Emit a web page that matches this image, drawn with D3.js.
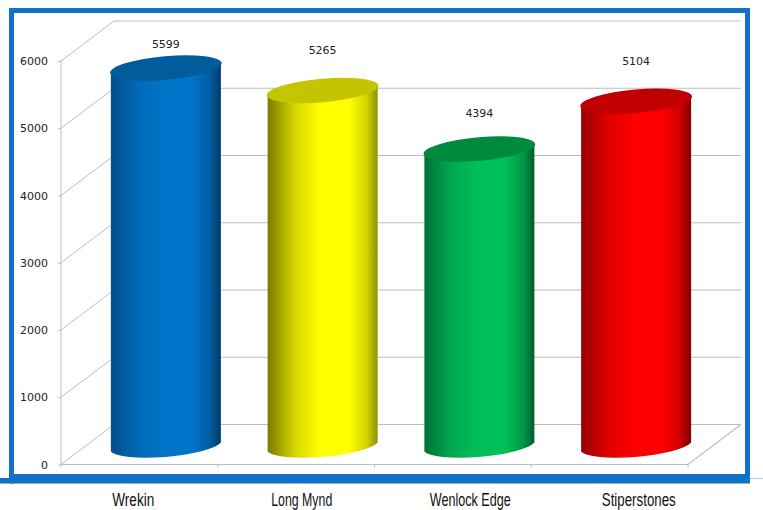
<!DOCTYPE html>
<html><head><meta charset="utf-8">
<script src="https://cdn.jsdelivr.net/npm/d3@7"></script>
<style>html,body{margin:0;padding:0;background:#fff;overflow:hidden}svg{display:block}</style>
</head><body><div id="c"></div>
<script>
const categories = ["Wrekin", "Long Mynd", "Wenlock Edge", "Stiperstones"];
const values = [5599, 5265, 4394, 5104];
const yTicks = [0, 1000, 2000, 3000, 4000, 5000, 6000];
const edgeLeft = ["#004f8c", "#7a7a00", "#00723a", "#960000"];
const mainCol = ["#0074c8", "#ffff00", "#00bf58", "#ff0000"];
const edgeRight = ["#003a66", "#8f8f00", "#005a2c", "#800000"];
const topCol = ["#005c9c", "#c4c400", "#008a3e", "#c00000"];
const labelLift = [24, 40, 36, 40];
const catWidths = [42, 61, 81, 74];

const W = 763, H = 510;
const svg = d3.select("#c").append("svg").attr("width", W).attr("height", H);
const dx = 53, dy = -40;                 // floor depth
const x0 = 61, x1 = 688, yF0 = 464.5, yF6 = 61;
const x = d3.scaleBand().domain(categories).range([x0, x1]);
const xLabel = d3.scaleBand().domain(categories).range([49, 723]);
const y = d3.scaleLinear().domain([0, 6000]).range([yF0, yF6]);
const grid = "#bdbdbd";
const g = svg.append("g");

// frame
const blue = "#1170c8";
g.append("rect").attr("x", 0).attr("y", 478).attr("width", 14).attr("height", 5.5).attr("fill", blue);
g.append("rect").attr("x", 750).attr("y", 478).attr("width", 13).attr("height", 1).attr("fill", "#a9cdee");
g.append("rect").attr("x", 11.5).attr("y", 10.5).attr("width", 736).attr("height", 468.5)
  .attr("fill", "#fff").attr("stroke", blue).attr("stroke-width", 5);
g.append("rect").attr("x", 9).attr("y", 474).attr("width", 741).attr("height", 9.5).attr("fill", blue);

// walls
const walls = g.append("g").attr("fill", "none").attr("stroke", grid).attr("stroke-width", 1);
yTicks.forEach(t => {
  walls.append("path").attr("d", d3.line()([[x0, y(t)], [x0 + dx, y(t) + dy], [x1 + dx, y(t) + dy]]));
});
walls.append("path").attr("d", d3.line()([[x1 + dx, y(0) + dy], [x1, y(0)], [x0, y(0)]])).attr("stroke-width", 1.2);

// axes
const ax = svg.append("g").attr("transform", `translate(${x0},0)`)
  .call(d3.axisLeft(y).tickValues(yTicks).tickSize(3).tickPadding(10).tickFormat(d3.format("d")));
ax.select(".domain").attr("stroke", grid).attr("d", `M0,${yF6}V${yF0}`);
ax.selectAll(".tick line").attr("stroke", grid);
ax.selectAll("text").attr("font-family", "DejaVu Sans").attr("font-size", 11).attr("fill", "#222");

const tickG = svg.append("g");
d3.range(categories.length + 1).forEach(i => {
  const tx = x0 + i * x.step();
  tickG.append("line").attr("x1", tx).attr("x2", tx).attr("y1", yF0).attr("y2", yF0 + 3).attr("stroke", grid);
});
const cx = svg.append("g").attr("transform", "translate(0,505.5)")
  .call(d3.axisBottom(xLabel).tickSize(0).tickPadding(0));
cx.select(".domain").remove();
cx.selectAll("text").attr("font-family", "'Liberation Sans'")
  .attr("font-size", 18).attr("fill", "#111").attr("y", 0).attr("dy", 0)
  .attr("textLength", (d, i) => catWidths[i]).attr("lengthAdjust", "spacingAndGlyphs");

// cylinders
const defs = svg.append("defs");
const rx = 56, ry = 11.8, rot = -5, tanX = 55, tanY = 4.4;
const yMid = v => y(v) + dy / 2;
const xMid = c => x(c) + x.bandwidth() / 2 + dx / 2;

categories.forEach((c, i) => {
  const gr = defs.append("linearGradient").attr("id", "g" + i);
  const mixL = d3.interpolateRgb(edgeLeft[i], mainCol[i]), mixR = d3.interpolateRgb(edgeRight[i], mainCol[i]);
  [[0, edgeLeft[i]], [0.25, mixL(0.7)], [0.48, mainCol[i]], [0.74, mainCol[i]], [0.9, mixR(0.6)], [1, edgeRight[i]]]
    .forEach(s => gr.append("stop").attr("offset", s[0]).attr("stop-color", s[1]));
  const cxp = xMid(c), top = yMid(values[i]), bot = yMid(0) + 2.5;
  const d = `M${cxp - tanX},${top + tanY}L${cxp - tanX},${bot + tanY}` +
    `A${rx},${ry} ${rot} 0 0 ${cxp + tanX},${bot - tanY}L${cxp + tanX},${top - tanY}` +
    `A${rx},${ry} ${rot} 0 1 ${cxp - tanX},${top + tanY}Z`;
  svg.append("path").attr("d", d).attr("fill", `url(#g${i})`);
  svg.append("ellipse").attr("cx", 0).attr("cy", 0).attr("rx", rx).attr("ry", ry)
    .attr("transform", `translate(${cxp},${top}) rotate(${rot})`).attr("fill", topCol[i]);
  svg.append("text").attr("x", cxp).attr("y", top - labelLift[i]).attr("dy", "0.35em")
    .attr("text-anchor", "middle").attr("font-family", "DejaVu Sans").attr("font-size", 11)
    .attr("fill", "#222").text(values[i]);
});
</script></body></html>
